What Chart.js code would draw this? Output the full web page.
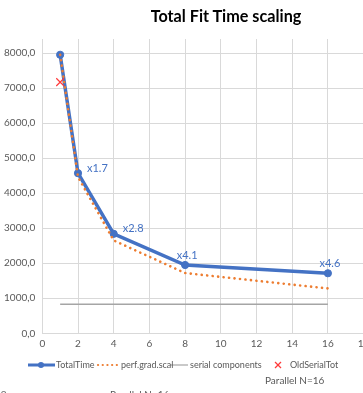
<!DOCTYPE html>
<html>
<head>
<meta charset="utf-8">
<script src="https://cdn.jsdelivr.net/npm/chart.js@4"></script>
<style>
  html, body { margin: 0; padding: 0; background: #fff; }
  body { width: 363px; height: 393px; overflow: hidden; position: relative; font-family: Lato, "Open Sans", sans-serif; }
  #wrap { position: absolute; left: 0; top: 0; width: 400px; height: 393px; }
  .title { position: absolute; top: 6px; left: 126px; width: 200px; text-align: center; font-weight: bold; font-size: 16.2px; color: #000; }
  .lg { position: absolute; top: 359px; font-size: 9px; color: #595959; white-space: nowrap; line-height: 12px; }
  .note { position: absolute; font-size: 10px; color: #595959; white-space: nowrap; }
</style>
</head>
<body>
<div id="wrap"><canvas id="c" width="400" height="393"></canvas></div>
<div class="title">Total Fit Time scaling</div>

<svg width="363" height="14" style="position:absolute;left:0;top:358px">
  <line x1="28" y1="7" x2="55" y2="7" stroke="#4472C4" stroke-width="3"/>
  <circle cx="41" cy="7" r="3" fill="#4472C4"/>
  <line x1="98" y1="7" x2="119" y2="7" stroke="#ED7D31" stroke-width="2.2" stroke-linecap="round" stroke-dasharray="0.1 4.6"/>
  <line x1="170" y1="7" x2="188" y2="7" stroke="#A5A5A5" stroke-width="1.2"/>
  <line x1="275" y1="4" x2="281" y2="10" stroke="#FF3B3B" stroke-width="1.2"/>
  <line x1="281" y1="4" x2="275" y2="10" stroke="#FF3B3B" stroke-width="1.2"/>
</svg>
<div class="lg" style="left:56px">TotalTime</div>
<div class="lg" style="left:121px">perf.grad.scal</div>
<div class="lg" style="left:190px">serial components</div>
<div class="lg" style="left:290px">OldSerialTot</div>

<div class="note" style="left:265px;top:374px">Parallel N=16</div>
<div class="note" style="left:-47px;top:388px">Parallel N=2</div>
<div class="note" style="left:110px;top:388px">Parallel N=16</div>

<script>
// Number of parallel workers
const workers = [1, 2, 4, 8, 16];
// Measured total fit time
const totalTime = [7950, 4570, 2840, 1950, 1714];
// Expected time from gradient-performance scaling
const perfGradScal = [7950, 4460, 2650, 1720, 1280];
// Serial part of the workload
const serialX = [1, 16];
const serialComponents = [830, 830];
// Previous serial total
const oldSerialX = [1];
const oldSerialTot = [7170];
// Axis ticks
const xTicks = [0, 2, 4, 6, 8, 10, 12, 14, 16, 18];
const yTicks = [0, 1000, 2000, 3000, 4000, 5000, 6000, 7000, 8000];

const pts = (xs, ys) => xs.map((x, i) => ({ x: x, y: ys[i] }));
const fmt = v => v.toFixed(1).replace('.', ',');

// Speed-up labels above/right of the measured points
const speedupLabels = {
  id: 'speedupLabels',
  afterDatasetsDraw(chart) {
    const meta = chart.getDatasetMeta(0);
    const ctx = chart.ctx;
    ctx.save();
    ctx.font = '11px Lato, "Open Sans", sans-serif';
    ctx.fillStyle = '#4472C4';
    ctx.textBaseline = 'middle';
    meta.data.forEach((el, i) => {
      if (i === 0) return;
      const label = 'x' + (totalTime[0] / totalTime[i]).toFixed(1);
      if (i <= 2) {
        ctx.textAlign = 'left';
        ctx.fillText(label, el.x + 9, el.y - 5);
      } else {
        ctx.textAlign = 'center';
        ctx.fillText(label, el.x + 2, el.y - 10);
      }
    });
    ctx.restore();
  }
};

new Chart(document.getElementById('c'), {
  type: 'line',
  data: {
    datasets: [
      {
        label: 'TotalTime',
        data: pts(workers, totalTime),
        borderColor: '#4472C4',
        backgroundColor: '#4472C4',
        borderWidth: 3.5,
        pointRadius: 3.6,
        pointBorderWidth: 1,
        pointBackgroundColor: '#4472C4',
        pointBorderColor: '#4472C4',
        tension: 0,
        order: 2
      },
      {
        label: 'perf.grad.scal',
        data: pts(workers, perfGradScal),
        borderColor: '#ED7D31',
        borderWidth: 2.6,
        borderDash: [0.1, 5.4],
        borderCapStyle: 'round',
        pointRadius: 0,
        tension: 0,
        order: 1
      },
      {
        label: 'serial components',
        data: pts(serialX, serialComponents),
        borderColor: '#A5A5A5',
        borderWidth: 1.6,
        pointRadius: 0,
        order: 3
      },
      {
        label: 'OldSerialTot',
        data: pts(oldSerialX, oldSerialTot),
        showLine: false,
        pointStyle: 'cross',
        rotation: 45,
        pointRadius: 5.5,
        pointBorderWidth: 1.2,
        pointBorderColor: '#FF3B3B',
        borderColor: '#FF3B3B',
        order: 0
      }
    ]
  },
  options: {
    responsive: false,
    animation: false,
    layout: { padding: { left: 0, right: 36.4, top: 39, bottom: 39.7 } },
    plugins: {
      legend: { display: false },
      title: { display: false },
      tooltip: { enabled: false }
    },
    scales: {
      x: {
        type: 'linear',
        min: 0,
        max: 18,
        afterBuildTicks: s => { s.ticks = xTicks.map(v => ({ value: v })); },
        afterFit: s => { s.height = 20; },
        ticks: { color: '#595959', font: { size: 10, family: 'Lato' }, padding: 4, maxRotation: 0, callback: v => String(v) },
        grid: { color: '#D9D9D9', lineWidth: 1, drawTicks: false },
        border: { color: '#D9D9D9' }
      },
      y: {
        min: 0,
        max: 8400,
        afterBuildTicks: s => { s.ticks = yTicks.map(v => ({ value: v })); },
        afterFit: s => { s.width = 42.3; },
        ticks: { color: '#595959', font: { size: 10, family: 'Lato' }, padding: 7, callback: v => fmt(v) },
        grid: { color: '#D9D9D9', lineWidth: 1, drawTicks: false },
        border: { color: '#D9D9D9' }
      }
    }
  },
  plugins: [speedupLabels]
});
</script>
</body>
</html>
